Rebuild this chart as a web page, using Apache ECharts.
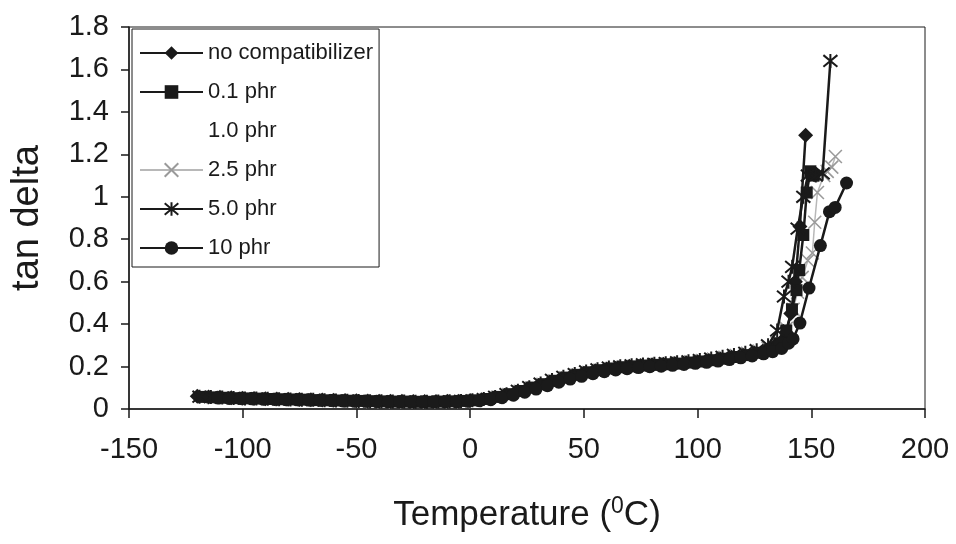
<!DOCTYPE html>
<html>
<head>
<meta charset="utf-8">
<script src="https://cdn.jsdelivr.net/npm/echarts@6/dist/echarts.min.js"></script>
<style>
  html, body { margin: 0; padding: 0; background: #fff; }
  #chart { width: 956px; height: 544px; }
</style>
</head>
<body>
<div id="chart"></div>
<script>
// axis ticks
const xTicks = { min: -150, max: 200, step: 50 }
const yTicks = { min: 0, max: 1.8, step: 0.2 }

const seriesNames = ['no compatibilizer', '0.1 phr', '1.0 phr', '2.5 phr', '5.0 phr', '10 phr']

// [temperature, tan delta]
const noCompatibilizer = [
  [-120, .060], [-115, .057], [-110, .055], [-105, .053], [-100, .051], [-95, .050], [-90, .048], [-85, .047],
  [-80, .046], [-75, .045], [-70, .043], [-65, .042], [-60, .041], [-55, .040], [-50, .039], [-45, .038],
  [-40, .037], [-35, .036], [-30, .036], [-25, .035], [-20, .035], [-15, .035], [-10, .036], [-5, .037],
  [0, .040], [5, .044], [10, .052], [15, .064], [20, .079], [25, .095], [30, .111], [35, .127],
  [40, .143], [45, .157], [50, .169], [55, .180], [60, .189], [65, .196], [70, .201], [75, .205],
  [80, .208], [85, .211], [90, .214], [95, .218], [100, .223], [105, .229], [110, .236], [115, .244],
  [120, .253], [125, .263], [130, .276], [134, .295], [137, .32], [139, .36], [141, .45], [143, .6],
  [145, .86], [147.5, 1.29]
]

const phr01 = [
  [-117.5, .057], [-112.5, .055], [-107.5, .053], [-102.5, .051], [-97.5, .050], [-92.5, .049], [-87.5, .047],
  [-82.5, .046], [-77.5, .045], [-72.5, .044], [-67.5, .042], [-62.5, .041], [-57.5, .040], [-52.5, .039],
  [-47.5, .038], [-42.5, .037], [-37.5, .036], [-32.5, .035], [-27.5, .035], [-22.5, .034], [-17.5, .034],
  [-12.5, .035], [-7.5, .036], [-2.5, .038], [2.5, .041], [7.5, .047], [12.5, .057], [17.5, .070],
  [22.5, .085], [27.5, .101], [32.5, .117], [37.5, .133], [42.5, .148], [47.5, .161], [52.5, .173],
  [57.5, .183], [62.5, .191], [67.5, .197], [72.5, .201], [77.5, .205], [82.5, .208], [87.5, .211],
  [92.5, .214], [97.5, .219], [102.5, .224], [107.5, .230], [112.5, .237], [117.5, .245], [122.5, .254],
  [127.5, .265], [132, .28], [136, .31], [139, .37], [141.5, .47], [143.5, .56], [144.7, .655],
  [146.5, .82], [148, 1.02], [149.6, 1.12], [151, 1.1]
]

const phr10a = [
  [-116, .055], [-106, .051], [-96, .049], [-86, .046], [-76, .044], [-66, .042], [-56, .039], [-46, .037],
  [-36, .035], [-26, .034], [-16, .034], [-6, .036], [4, .041], [14, .060], [24, .090], [34, .122],
  [44, .152], [54, .176], [64, .193], [74, .202], [84, .208], [94, .215], [104, .227], [114, .240],
  [124, .258], [134, .29], [140, .40], [145, .62], [150, .95]
]

const phr25 = [
  [-113, .055], [-108, .053], [-103, .051], [-98, .049], [-93, .048], [-88, .047], [-83, .045], [-78, .044],
  [-73, .043], [-68, .042], [-63, .041], [-58, .039], [-53, .038], [-48, .037], [-43, .036], [-38, .035],
  [-33, .034], [-28, .034], [-23, .033], [-18, .033], [-13, .034], [-8, .035], [-3, .036], [2, .039],
  [7, .045], [12, .055], [17, .068], [22, .083], [27, .099], [32, .116], [37, .132], [42, .147],
  [47, .160], [52, .172], [57, .182], [62, .190], [67, .196], [72, .201], [77, .205], [82, .209],
  [87, .213], [92, .217], [97, .222], [102, .228], [107, .235], [112, .243], [117, .252], [122, .262],
  [127, .273], [131, .287], [135, .31], [139, .38], [142, .47], [144, .55], [146, .62], [148.5, .70],
  [150.5, .735], [151.5, .88], [152.7, 1.02], [155.5, 1.1], [157, 1.12], [159, 1.14], [160.6, 1.19]
]

const phr50 = [
  [-119, .058], [-114, .056], [-109, .054], [-104, .052], [-99, .050], [-94, .049], [-89, .048], [-84, .046],
  [-79, .045], [-74, .044], [-69, .043], [-64, .041], [-59, .040], [-54, .039], [-49, .038], [-44, .037],
  [-39, .036], [-34, .035], [-29, .035], [-24, .034], [-19, .034], [-14, .035], [-9, .036], [-4, .038],
  [1, .041], [6, .047], [11, .057], [16, .070], [21, .086], [26, .103], [31, .120], [36, .137],
  [41, .152], [46, .165], [51, .177], [56, .187], [61, .195], [66, .201], [71, .206], [76, .210],
  [81, .213], [86, .216], [91, .220], [96, .225], [101, .231], [106, .238], [111, .246], [116, .255],
  [121, .265], [126, .277], [131, .30], [135, .37], [138, .53], [140, .60], [141.6, .67], [144, .85],
  [146.5, 1.0], [148.5, 1.1], [152, 1.1], [155, 1.11], [158.4, 1.64]
]

const phr10 = [
  [-111, .052], [-106, .050], [-101, .049], [-96, .048], [-91, .046], [-86, .045], [-81, .044], [-76, .043],
  [-71, .042], [-66, .041], [-61, .040], [-56, .038], [-51, .037], [-46, .036], [-41, .035], [-36, .034],
  [-31, .034], [-26, .033], [-21, .033], [-16, .033], [-11, .033], [-6, .034], [-1, .036], [4, .039],
  [9, .044], [14, .053], [19, .065], [24, .079], [29, .094], [34, .110], [39, .126], [44, .141],
  [49, .154], [54, .166], [59, .176], [64, .184], [69, .190], [74, .195], [79, .199], [84, .202],
  [89, .206], [94, .210], [99, .215], [104, .220], [109, .226], [114, .233], [119, .241], [124, .250],
  [129, .260], [133, .27], [137, .285], [140, .31], [142, .33], [145, .405], [149, .57], [154, .77],
  [158, .93], [160.5, .95], [165.5, 1.065]
]

const FONT = '"Liberation Sans", Arial, sans-serif'
const INK = '#1a1a1a'

const xMark = 'path://M0,0L10,10M10,0L0,10'
const starMark = 'path://M0,0L10,10M10,0L0,10M5,-1L5,11'

const chart = echarts.init(document.getElementById('chart'))

const lineSeries = (name, data, extra) => Object.assign({
  name,
  type: 'line',
  data,
  smooth: false,
  symbolSize: 13,
  lineStyle: { color: INK, width: 2.5 },
  itemStyle: { color: INK },
  z: 3
}, extra)

chart.setOption({
  animation: false,
  backgroundColor: '#fff',
  textStyle: { fontFamily: FONT },
  grid: {
    left: 129, right: 31, top: 27, bottom: 135,
    show: true, borderColor: INK, borderWidth: 1
  },
  legend: {
    orient: 'vertical',
    left: 132,
    top: 29,
    data: seriesNames,
    itemWidth: 63,
    itemHeight: 17,
    itemGap: 17,
    padding: [13, 6, 8, 7],
    borderColor: INK,
    borderWidth: 1,
    backgroundColor: '#fff',
    textStyle: { fontSize: 22, color: INK, fontFamily: FONT }
  },
  xAxis: {
    type: 'value',
    min: xTicks.min, max: xTicks.max, interval: xTicks.step,
    axisLine: { onZero: false, lineStyle: { color: INK, width: 1.5 } },
    axisTick: { length: 9, lineStyle: { color: INK, width: 1.5 } },
    splitLine: { show: false },
    axisLabel: { fontSize: 29, color: INK, margin: 26, fontFamily: FONT },
    name: 'Temperature ({sup|0}C)',
    nameLocation: 'middle',
    nameGap: 86,
    nameTextStyle: {
      fontSize: 35, color: INK, fontFamily: FONT,
      rich: { sup: { fontSize: 23, verticalAlign: 'top', padding: [0, 0, 18, 0], color: INK, fontFamily: FONT } }
    }
  },
  yAxis: {
    type: 'value',
    min: yTicks.min, max: yTicks.max, interval: yTicks.step,
    axisLine: { show: true, onZero: false, lineStyle: { color: INK, width: 1.5 } },
    axisTick: { show: true, length: 8, lineStyle: { color: INK, width: 1.5 } },
    splitLine: { show: false },
    axisLabel: { fontSize: 29, color: INK, margin: 20, fontFamily: FONT },
    name: 'tan delta',
    nameLocation: 'middle',
    nameRotate: 90,
    nameGap: 82,
    nameTextStyle: { fontSize: 38, color: INK, fontFamily: FONT }
  },
  series: [
    lineSeries(seriesNames[2], phr10a, {
      symbol: 'none',
      lineStyle: { color: '#ffffff', width: 1 },
      itemStyle: { color: '#ffffff' },
      z: 1
    }),
    lineSeries(seriesNames[3], phr25, {
      symbol: xMark,
      symbolSize: 13,
      lineStyle: { color: '#b8b8b8', width: 1.5 },
      itemStyle: { color: '#9a9a9a', borderColor: '#9a9a9a', borderWidth: 1.6 },
      z: 2
    }),
    lineSeries(seriesNames[0], noCompatibilizer, { symbol: 'diamond', symbolSize: 15 }),
    lineSeries(seriesNames[1], phr01, { symbol: 'rect', symbolSize: 12 }),
    lineSeries(seriesNames[4], phr50, {
      symbol: starMark,
      symbolSize: 14,
      itemStyle: { color: INK, borderColor: INK, borderWidth: 2 }
    }),
    lineSeries(seriesNames[5], phr10, { symbol: 'circle', symbolSize: 13 })
  ]
})
</script>
</body>
</html>
